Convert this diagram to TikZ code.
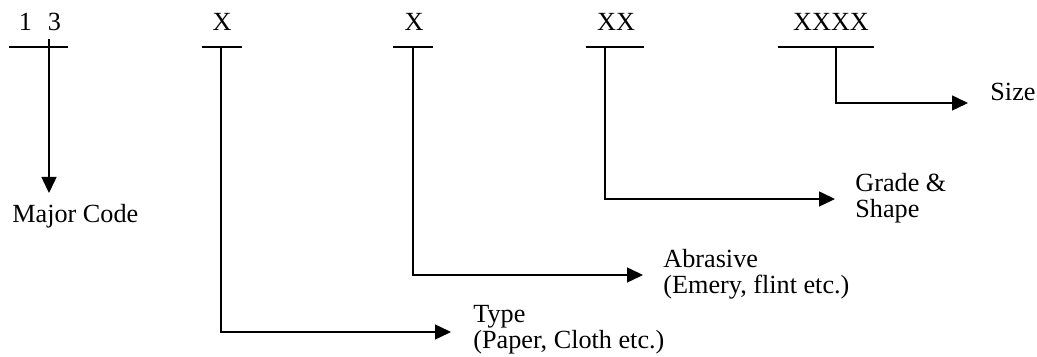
\documentclass[tikz,border=0pt]{standalone}
\usepackage{fontspec}
\setmainfont{Liberation Serif}
\usetikzlibrary{arrows.meta}
\tikzset{
    codigo/.style={anchor=base,inner sep=0pt,font=\fontsize{13.1}{13}\selectfont},
    etiqueta/.style={anchor=base west,inner sep=0pt,align=left,font=\fontsize{13.1}{13}\selectfont},
    barra/.style={line width=1.1pt},
    flecha/.style={line width=0.75pt,-{Triangle[length=8pt,width=7.5pt]}}
}
\begin{document}
\begin{tikzpicture}[x=0.5pt,y=-0.5pt]
        \useasboundingbox (0,0) rectangle (1037,357);

        %Codigos
        \node[codigo] (mayor) at (40,31) {1\hspace{8pt}3};
        \node[codigo] (tipo) at (222,31) {X};
        \node[codigo] (abrasivo) at (414,31) {X};
        \node[codigo] (grado) at (616,31) {XX};
        \node[codigo] (tam) at (831,31) {XXXX};

        % Barras
        \foreach \a/\b in {9/68,202/242,393/433,586/644,778/874}
        \draw[barra] (\a,47) -- (\b,47);

        % Etiquetas (base en la ultima linea)
        \node[etiqueta] (lmayor) at (12,223) {Major Code};
        \node[etiqueta] (ltipo) at (473,348) {Type\\(Paper, Cloth etc.)};
        \node[etiqueta] (labrasivo) at (663,293) {Abrasive\\(Emery, flint etc.)};
        \node[etiqueta] (lgrado) at (855,218) {Grade \&\\Shape};
        \node[etiqueta] (ltam) at (990,101) {Size};

        %Puntos de las flechas
        \coordinate (smayor) at (49,39);
        \coordinate (emayor) at (49,193);
        \foreach \n/\x/\y/\e in {tipo/221/332/451,abrasivo/413/275/643,grado/605/199/835,tam/836/103/968}{
            \coordinate (s\n) at (\x,47);
            \coordinate (e\n) at (\e,\y);
        }

        % Flechas
        \draw[flecha] (smayor) -- (emayor);
        \foreach \n in {tipo,abrasivo,grado,tam}
        \draw[flecha] (s\n) |- (e\n);
\end{tikzpicture}
\end{document}
